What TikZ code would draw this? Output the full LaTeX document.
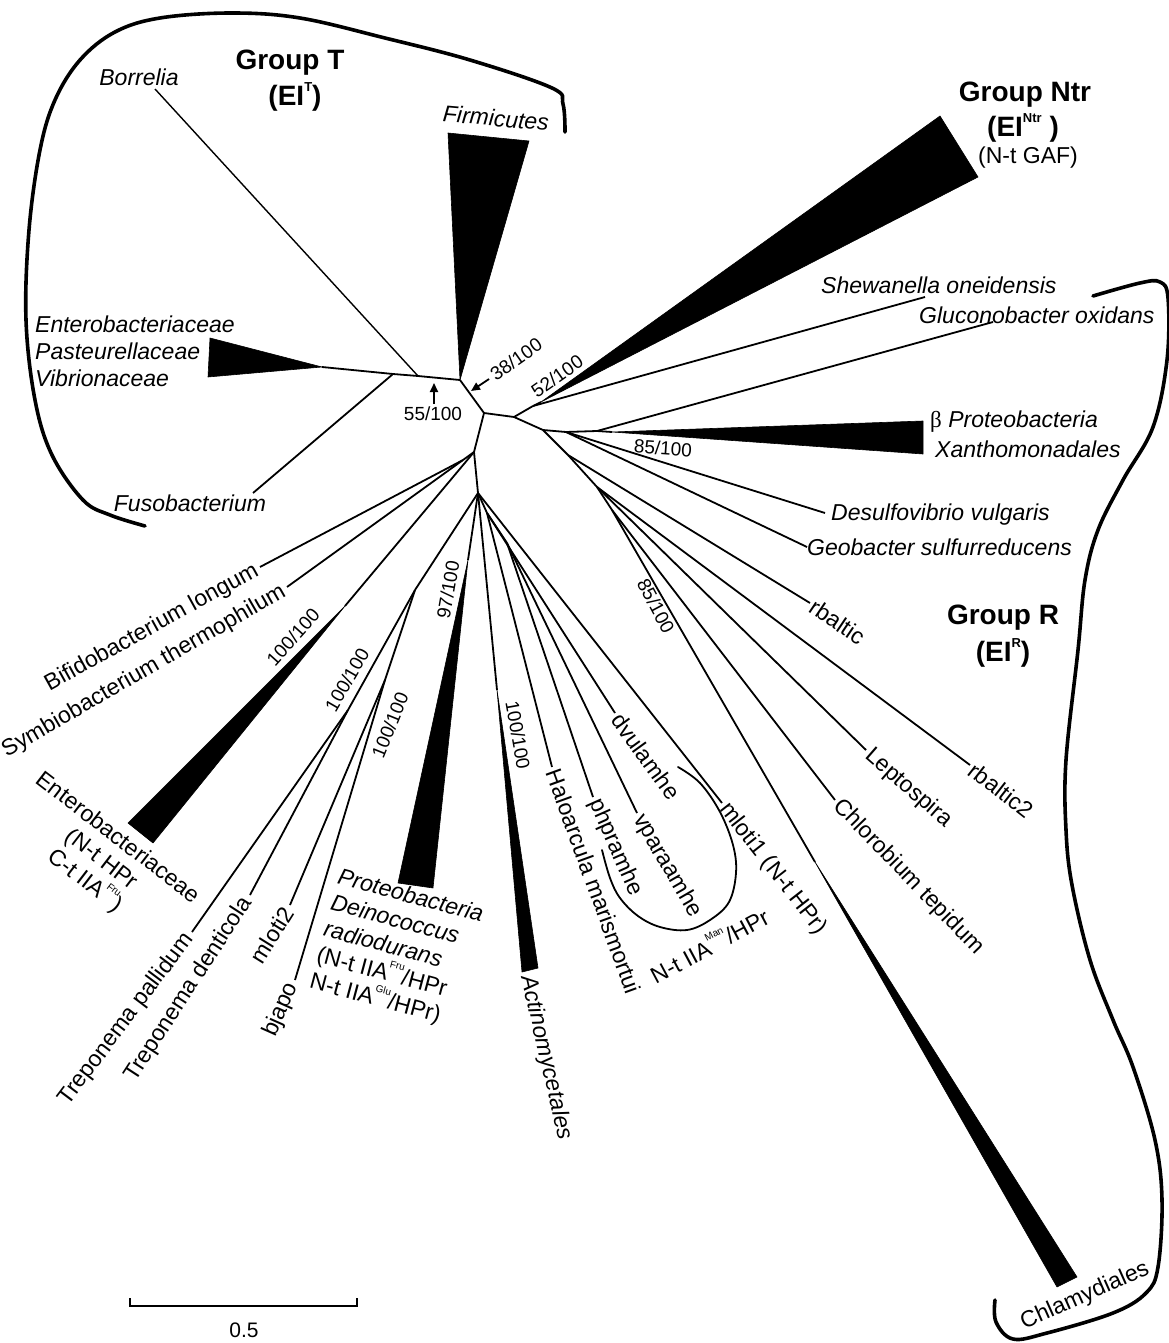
\documentclass[tikz,border=0pt]{standalone}
\usepackage{fontspec}
\setmainfont{Liberation Sans}
\newfontfamily\grk{Liberation Serif}
\usetikzlibrary{arrows.meta}
\newcommand\sps[1]{\raisebox{0.6em}{\fontsize{10}{10}\selectfont\mdseries #1}}
\newcommand\hsps[1]{\raisebox{0.5em}{\fontsize{13}{13}\selectfont\bfseries #1}}
\begin{document}
\begin{tikzpicture}[x=1pt,y=-1pt,
  br/.style={line width=1.8pt},
  wedge/.style={fill=black, draw=black, line width=0.6pt, line join=round},
  grp/.style={line width=3.6pt, line cap=round},
  loopline/.style={line width=1.8pt, line cap=round},
  lab/.style={font=\fontsize{23}{27}\selectfont\itshape, inner sep=1pt},
  labr/.style={font=\fontsize{23}{27}\selectfont, inner sep=1pt},
  boot/.style={font=\fontsize{19}{22}\selectfont, inner sep=0pt},
  head/.style={font=\fontsize{28}{32}\selectfont\bfseries, inner sep=0pt},
  arr/.style={line width=1.8pt, -{Triangle[length=9pt,width=8pt]}},
]
\useasboundingbox (0,0) rectangle (1169,1343);

% internal nodes
\coordinate (B) at (460,380);
\coordinate (Bj) at (418,376);
\coordinate (F) at (393,374);
\coordinate (C) at (484,413);
\coordinate (D) at (514,417);
\coordinate (N) at (533,406);
\coordinate (G) at (543,430);
\coordinate (H1) at (566,432);
\coordinate (H) at (597,431);
\coordinate (K) at (568,455);
\coordinate (L) at (597,487);
\coordinate (L2) at (612,510);
\coordinate (E) at (474,452);
\coordinate (E1) at (463,460);
\coordinate (E2) at (478,493);
\coordinate (E4) at (487,513);
\coordinate (E5) at (507,543);
\coordinate (X) at (415,590);
\coordinate (TP) at (348,710);
\coordinate (MB) at (385,680);

% leaf ends
\coordinate (borr) at (155,89);
\coordinate (fuso) at (253,493);
\coordinate (entT) at (322,367);
\coordinate (ntrA) at (541,402);
\coordinate (shew) at (925,297);
\coordinate (gluc) at (993,322);
\coordinate (betaA) at (612,432);
\coordinate (desu) at (825,513);
\coordinate (geob) at (807,547);
\coordinate (rbal) at (810,603);
\coordinate (lept) at (866,750);
\coordinate (rbal2) at (970,765);
\coordinate (chlo) at (835,800);
\coordinate (chlaA) at (815,862);
\coordinate (mlo1) at (722,803);
\coordinate (dvul) at (615,713);
\coordinate (vpar) at (637,813);
\coordinate (phpr) at (593,797);
\coordinate (halo) at (552,767);
\coordinate (actA) at (497,690);
\coordinate (protA) at (468,560);
\coordinate (mlo2) at (290,905);
\coordinate (bjap) at (295,980);
\coordinate (tpal) at (192,932);
\coordinate (tden) at (250,895);
\coordinate (entBA) at (345,606);
\coordinate (bifi) at (260,567);
\coordinate (symb) at (287,587);

% branches
\foreach \a/\b in {entT/F, F/Bj, Bj/B, F/fuso, B/C, C/D, D/N, N/ntrA, N/shew,
  D/G, G/H1, H1/H, H/betaA, H/gluc, H1/desu, H1/geob, G/K, K/rbal, K/L,
  L/lept, L/rbal2, L/L2, L2/chlo, L2/chlaA, C/E, E/E1, E1/bifi, E1/symb,
  E/entBA, E/E2, E2/X, X/TP, TP/tpal, TP/tden, X/MB, MB/mlo2, MB/bjap,
  E2/protA, E2/actA, E2/E4, E4/halo, E4/E5, E5/phpr, E5/vpar, E4/dvul, E2/mlo1}
  \draw[br] (\a) -- (\b);
\draw[line width=1.4pt] (Bj) -- (borr);

% wedges
\fill[wedge] (entT) -- (210,338) -- (208,377) -- cycle;
\fill[wedge] (B) -- (448,133) -- (529,141) -- cycle;
\fill[wedge] (ntrA) -- (940,116) -- (978,177) -- cycle;
\fill[wedge] (betaA) -- (923,421) -- (923,454) -- cycle;
\fill[wedge] (chlaA) -- (1077,1277) -- (1057,1287) -- cycle;
\fill[wedge] (actA) -- (538,968) -- (522,972) -- cycle;
\fill[wedge] (protA) -- (433,888) -- (398,883) -- cycle;
\fill[wedge] (entBA) -- (153,843) -- (128,823) -- cycle;

% group brackets
\draw[grp] plot[smooth, tension=0.6] coordinates {(565,132) (563,104) (552,88) (470,60) (385,38) (300,18) (231,13) (160,18) (115,32) (80,60) (55,100) (40,150) (29,230) (26,320) (35,400) (52,455) (83,500) (110,515) (145,526)};
\draw[grp] plot[smooth, tension=0.6] coordinates {(1093,296) (1140,283) (1160,282) (1168,298) (1167,360) (1153,427) (1123,480) (1098,530) (1085,580) (1078,650) (1066,760) (1066,830) (1072,885) (1090,960) (1113,1020) (1133,1067) (1155,1140) (1162,1200) (1158,1267) (1146,1293) (1113,1313) (1047,1333) (1013,1339) (996,1322) (995,1300)};

% loop
\draw[loopline] plot[smooth, tension=0.6] coordinates {(678,767) (700,783) (720,812) (733,845) (736,873) (729,902) (710,920) (687,930) (660,927) (638,916) (620,898) (610,878) (602,850)};

% labels: group T
\node[head] (gT) at (290,63) {Group T};
\node[head] (gTe) at (295,97) {(EI\hsps{T})};
\node[lab] (lborr) at (139,77) {Borrelia};
\node[lab, rotate=-5] (lfirm) at (496,118) {Firmicutes};
\node[lab, anchor=west, align=left] (lent) at (34,351) {Enterobacteriaceae\\Pasteurellaceae\\Vibrionaceae};
\node[lab] (lfuso) at (190,503) {Fusobacterium};

% central bootstraps
\node[boot] (b55) at (433,414) {55/100};
\coordinate (a55s) at (434,404);
\coordinate (a55e) at (434,383);
\draw[arr] (a55s) -- (a55e);
\node[boot, rotate=35] (b38) at (516,359) {38/100};
\coordinate (a38s) at (489,379);
\coordinate (a38e) at (471,391);
\draw[arr] (a38s) -- (a38e);
\node[boot, rotate=35] (b52) at (557,376) {52/100};

% group Ntr
\node[head] (gN) at (1025,95) {Group Ntr};
\node[head] (gNe) at (1023,128) {(EI\hsps{Ntr} )};
\node[labr] (gNf) at (1028,158) {(N-t GAF)};

\node[lab, anchor=west] (lshew) at (820,285) {Shewanella oneidensis};
\node[lab, anchor=west] (lgluc) at (918,315) {Gluconobacter oxidans};
\node[lab, anchor=west] (lbeta) at (929,422) {{\upshape\grk β} Proteobacteria};
\node[lab, anchor=west] (lxan) at (934,449) {Xanthomonadales};
\node[boot, rotate=-4] (b85a) at (663,448) {85/100};
\node[lab, anchor=west] (ldesu) at (830,515) {Desulfovibrio vulgaris};
\node[lab, anchor=west] (lgeob) at (806,547) {Geobacter sulfurreducens};

% group R
\node[head] (gR) at (1003,618) {Group R};
\node[head] (gRe) at (1003,653) {(EI\hsps{R})};

\node[labr, anchor=west, rotate=-34] (lrbal) at (811,604) {rbaltic};
\node[labr, anchor=west, rotate=-41] (llept) at (867,752) {Leptospira};
\node[labr, anchor=west, rotate=-38] (lrbal2) at (971,767) {rbaltic2};
\node[labr, anchor=west, rotate=-46] (lchlo) at (836,802) {Chlorobium tepidum};
\node[boot, rotate=-62] (b85b) at (656,606) {85/100};
\node[labr, rotate=24] (lchla) at (1085,1296) {Chlamydiales};

\node[labr, anchor=west, rotate=-52] (lmlo1) at (723,805) {mloti1 (N-t HPr)};
\node[labr, anchor=west, rotate=-54] (ldvul) at (616,715) {dvulamhe};
\node[labr, anchor=west, rotate=-60] (lvpar) at (638,815) {vparaamhe};
\node[labr, anchor=west, rotate=-66] (lphpr) at (594,799) {phpramhe};
\node[labr, anchor=west, rotate=28] (lman) at (650,976) {N-t IIA\sps{Man}/HPr};
\node[labr, anchor=west, rotate=-70] (lhalo) at (553,769) {Haloarcula marismortui};
\node[lab, anchor=west, rotate=-77] (lact) at (527,975) {Actinomycetales};
\node[boot, rotate=-80] (b100e) at (518,735) {100/100};
\node[boot, rotate=80] (b97) at (448,590) {97/100};
\node[labr, anchor=north west, rotate=-15, align=left] (lprot) at (340,866)
  {\textit{Proteobacteria}\\\textit{Deinococcus}\\\textit{radiodurans}\\(N-t IIA\sps{Fru}/HPr\\N-t IIA\sps{Glu}/HPr)};

% lower-left
\node[labr, anchor=east, rotate=29] (lbifi) at (258,569) {Bifidobacterium longum};
\node[labr, anchor=east, rotate=30] (lsymb) at (285,590) {Symbiobacterium thermophilum};
\node[boot, rotate=48] (b100a) at (293,637) {100/100};
\node[labr, rotate=-37.5, align=center] (lentB) at (101,860) {Enterobacteriaceae\\(N-t HPr\\C-t IIA\sps{Fru})};
\node[boot, rotate=60] (b100b) at (347,680) {100/100};
\node[boot, rotate=68] (b100c) at (390,725) {100/100};
\node[labr, anchor=east, rotate=53] (ltpal) at (190,935) {Treponema pallidum};
\node[labr, anchor=east, rotate=57] (ltden) at (248,898) {Treponema denticola};
\node[labr, anchor=east, rotate=58] (lmlo2) at (289,908) {mloti2};
\node[labr, anchor=east, rotate=66] (lbjap) at (293,983) {bjapo};

% scale bar
\coordinate (sb1) at (130,1306);
\coordinate (sb2) at (357,1306);
\coordinate (sb1t) at (130,1298);
\coordinate (sb2t) at (357,1298);
\draw[line width=1.5pt] (sb1t) -- (sb1) -- (sb2) -- (sb2t);
\node[font=\fontsize{21}{24}\selectfont] (sbl) at (244,1330) {0.5};
\end{tikzpicture}
\end{document}
